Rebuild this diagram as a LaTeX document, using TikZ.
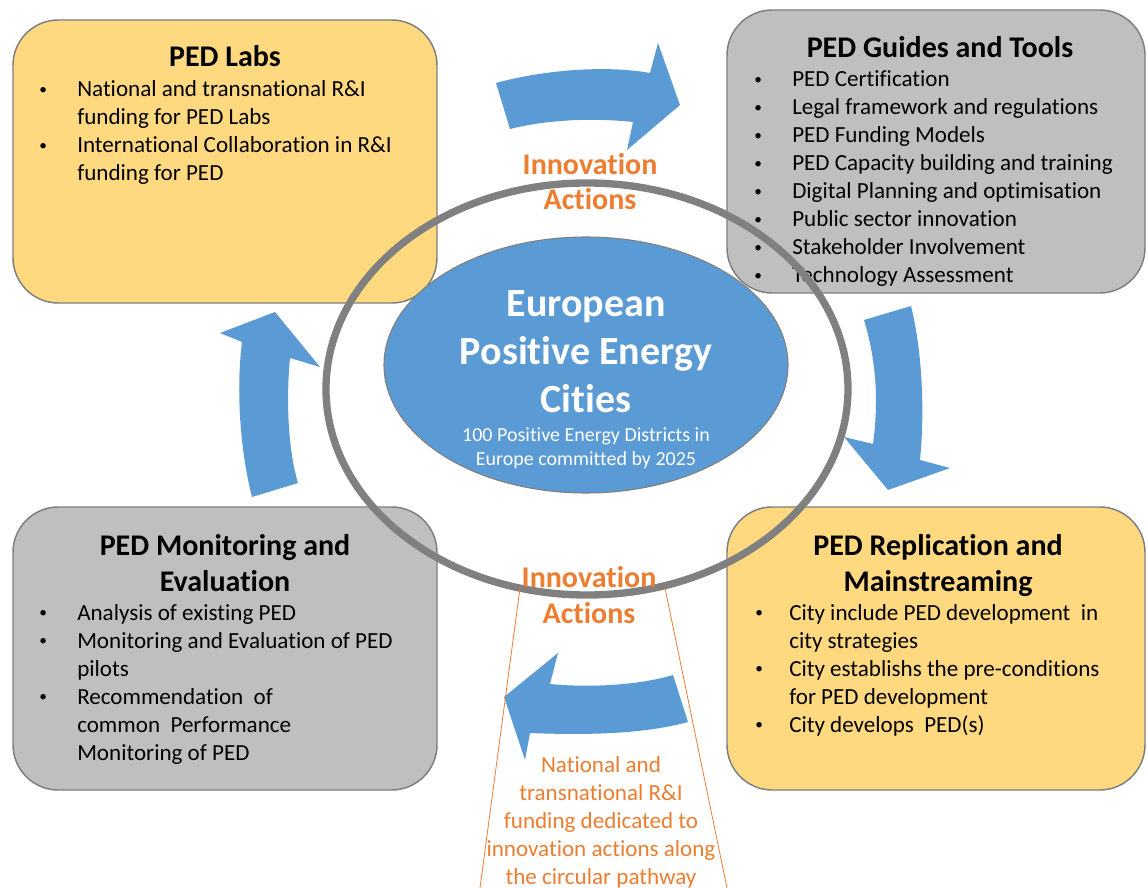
\documentclass[tikz,border=0pt]{standalone}
\usepackage{fontspec}
\setmainfont{Carlito}[Ligatures=NoCommon]
\usetikzlibrary{shapes.geometric}
\definecolor{pedyellow}{HTML}{FFD97F}
\definecolor{pedgray}{HTML}{BFBFBF}
\definecolor{pedblue}{HTML}{5B9BD5}
\definecolor{pedorange}{HTML}{ED7D31}
\definecolor{ringgray}{HTML}{808080}
\definecolor{edgegray}{HTML}{7F7F7F}
\newcommand{\bodyfont}{\fontsize{17.3pt}{21pt}\selectfont}
\newcommand{\titlefont}{\fontsize{22.5pt}{27pt}\selectfont\bfseries}
\newcommand{\smallbullet}{\hspace{1.5pt}\raisebox{1.6pt}{\fontsize{11.5pt}{11.5pt}\selectfont\textbullet}}
\newcommand{\bitem}{\makebox[30pt][l]{\smallbullet}}
\newcommand{\ritem}{\makebox[27pt][l]{\smallbullet}}
\begin{document}
\begin{tikzpicture}[x=0.75pt,y=-0.75pt,
  box/.style={draw=edgegray,line width=1.1pt,rounded corners=34pt},
  yelbox/.style={box,fill=pedyellow},
  graybox/.style={box,fill=pedgray},
  boxtitle/.style={font=\titlefont,anchor=base,inner sep=0pt,align=center},
  boxbody/.style={font=\bodyfont,anchor=base west,inner sep=0pt},
  blockarrow/.style={fill=pedblue,draw=none},
  innov/.style={font=\titlefont,text=pedorange,anchor=base,inner sep=0pt},
  orangeline/.style={draw=pedorange,line width=0.6pt}]
\useasboundingbox (0,0) rectangle (1147,888);
\fill[white] (0,0) rectangle (1147,888);

% boxes
\draw[yelbox] (13,20) rectangle (437,303);
\draw[graybox] (727,10) rectangle (1145,293);
\draw[graybox] (13,507) rectangle (437,790);
\draw[yelbox] (727,507) rectangle (1145,790);

% PED Labs
\node[boxtitle] (labsT) at (225,67) {PED Labs};
\node[boxbody] (labsB) at (37,97) {\begin{tabular}[t]{@{}l@{}}
\bitem National and transnational R\&I\\
\hspace{30pt}funding for PED Labs\\
\bitem International Collaboration in R\&I\\
\hspace{30pt}funding for PED
\end{tabular}};

% PED Guides
\node[boxtitle] (guidesT) at (940,58) {PED Guides and Tools};
\node[boxbody] (guidesB) at (752,87) {\begin{tabular}[t]{@{}l@{}}
\bitem PED Certification\\
\bitem Legal framework and regulations\\
\bitem PED Funding Models\\
\bitem PED Capacity building and training\\
\bitem Digital Planning and optimisation\\
\bitem Public sector innovation\\
\bitem Stakeholder Involvement\\
\bitem Technology Assessment
\end{tabular}};

% PED Monitoring
\node[boxtitle] (monT) at (225,591) {PED Monitoring and\\[-0.5pt]Evaluation};
\node[boxbody] (monB) at (37,620) {\begin{tabular}[t]{@{}l@{}}
\bitem Analysis of existing PED\\
\bitem Monitoring and Evaluation of PED\\
\hspace{30pt}pilots\\
\bitem Recommendation\ \ of\\
\hspace{30pt}common\ \ Performance\\
\hspace{30pt}Monitoring of PED
\end{tabular}};

% PED Replication
\node[boxtitle] (repT) at (938,591) {PED Replication and\\[-0.5pt]Mainstreaming};
\node[boxbody] (repB) at (753,620) {\begin{tabular}[t]{@{}l@{}}
\ritem City include PED development\ \ in\\
\hspace{27pt}city strategies\\
\ritem City establishs the pre-conditions\\
\hspace{27pt}for PED development\\
\ritem City develops\ \ PED(s)
\end{tabular}};

% curved block arrows
\path[blockarrow] (496,83) .. controls (535,72) and (600,64) .. (650,73) -- (658,43) -- (680,105) -- (627,150) -- (633,122) .. controls (595,118) and (550,119) .. (510,129) -- cycle;
\path[blockarrow] (911,306) .. controls (922,350) and (925,410) .. (920,460) -- (950,468) -- (888,490) -- (844,437) -- (873,444) .. controls (879,400) and (876,360) .. (864,320) -- cycle;
\path[blockarrow] (688,722) .. controls (640,735) and (580,735) .. (530,733) -- (525,760) -- (504,697) -- (558,653) -- (550,684) .. controls (590,688) and (640,685) .. (673,675) -- cycle;
\path[blockarrow] (252,497) .. controls (240,450) and (236,390) .. (242,342) -- (220,333) -- (275,312) -- (320,367) -- (290,358) .. controls (286,400) and (288,450) .. (298,483) -- cycle;

% centre
\node[ellipse,draw=edgegray,line width=0.8pt,fill=pedblue,minimum width=303pt,minimum height=192pt,inner sep=0pt] (centre) at (586,365) {};
\node[font=\fontsize{30pt}{36pt}\selectfont\bfseries,text=white,anchor=base,inner sep=0pt,align=center] (centreT) at (586,412) {European\\Positive Energy\\Cities};
\node[font=\fontsize{15pt}{18pt}\selectfont,text=white,anchor=base,inner sep=0pt,align=center] (centreS) at (586,465) {100 Positive Energy Districts in\\Europe committed by 2025};

% ring
\draw[ringgray,line width=5.5pt] (587,389) ellipse [x radius=261,y radius=206];

% orange lines
\coordinate (ringL) at (520,588);
\coordinate (ringR) at (665,588);
\coordinate (footL) at (480,888);
\coordinate (footR) at (727,888);
\draw[orangeline] (ringL) -- (footL);
\draw[orangeline] (ringR) -- (footR);

% innovation labels
\node[innov,align=center] (innovTop) at (590,210) {Innovation\\[-0.5pt]Actions};
\node[innov,align=center] (innovBot) at (589,623) {Innovation\\[-0.5pt]Actions};
\node[font=\bodyfont,text=pedorange,anchor=base,inner sep=0pt,align=center] (fundText) at (601,884) {National and\\transnational R\&I\\funding dedicated to\\innovation actions along\\the circular pathway};
\end{tikzpicture}
\end{document}
